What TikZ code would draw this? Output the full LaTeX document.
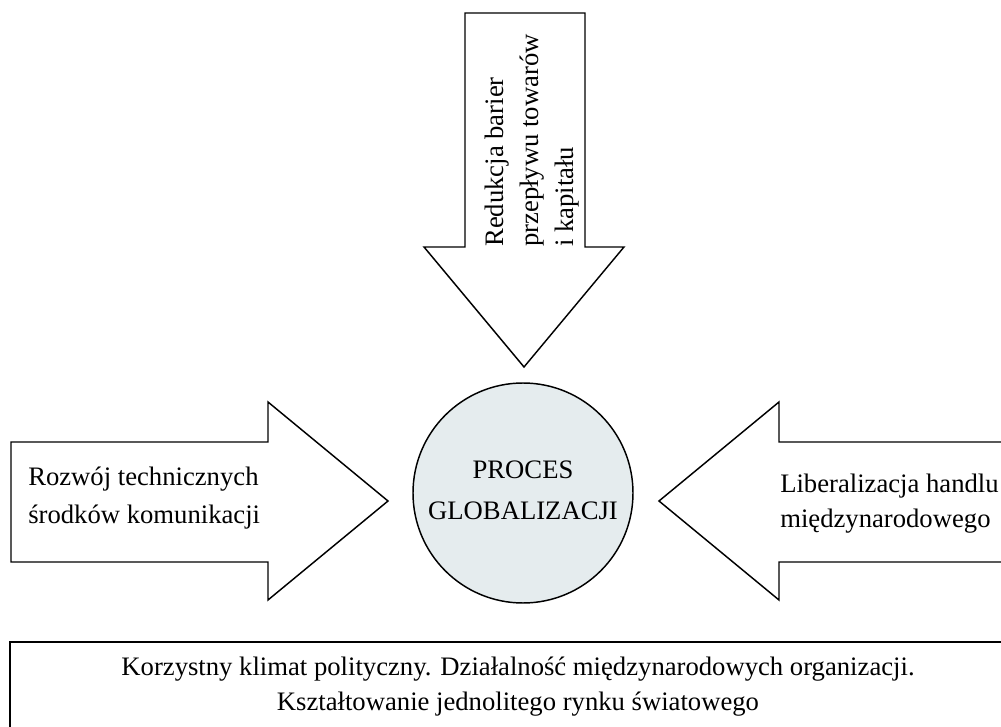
\documentclass[tikz,border=0pt]{standalone}
\usepackage{fontspec}
\setmainfont{Liberation Serif}
\definecolor{circfill}{RGB}{229,236,238}
\tikzset{
  shapeline/.style={draw=black, line width=1.1pt, line join=miter, fill=white},
  lbl/.style={inner sep=0pt},
}
\newcommand{\blockL}[2]{\fontsize{20}{#1}\selectfont\begin{tabular}[t]{@{}l@{}}#2\end{tabular}}
\newcommand{\blockC}[2]{\fontsize{20}{#1}\selectfont\begin{tabular}[t]{@{}c@{}}#2\end{tabular}}
\begin{document}
\begin{tikzpicture}[x=0.75pt, y=-0.75pt]
\useasboundingbox (0,0) rectangle (1001,727);
\clip (0,0) rectangle (1001,727);
% top arrow
\draw[shapeline] (465,13) -- (585,13) -- (585,247) -- (624,247) -- (524,367) -- (424,247) -- (465,247) -- cycle;
\node[lbl, rotate=90, anchor=base west] (ttop) at (503,247) {\blockL{26.25pt}{Redukcja barier\\przepływu towarów\\i kapitału}};
% left arrow
\draw[shapeline] (11,442) -- (268,442) -- (268,402) -- (388,501) -- (268,600) -- (268,562) -- (11,562) -- cycle;
\node[lbl, anchor=base west] (tleft) at (28,486) {\blockL{28.5pt}{Rozwój technicznych\\środków komunikacji}};
% right arrow
\draw[shapeline] (1010,442) -- (779,442) -- (779,402) -- (659,501) -- (779,600) -- (779,562) -- (1010,562);
\node[lbl, anchor=base west] (tright) at (780,493) {\blockL{26.25pt}{Liberalizacja handlu\\międzynarodowego}};
% circle
\node[circle, draw=black, line width=1.1pt, fill=circfill, minimum size=220*0.75pt, inner sep=0pt] (proc) at (523,493) {};
\node[lbl, anchor=base] (tproc) at (523,479) {\blockC{30.75pt}{PROCES\\GLOBALIZACJI}};
% bottom box
\draw[draw=black, line width=1.6pt] (10,760) -- (10,642) -- (1010,642);
\node[lbl, anchor=base] (tbottom) at (518,675) {\blockC{26.25pt}{Korzystny klimat polityczny. Działalność międzynarodowych organizacji.\\Kształtowanie jednolitego rynku światowego}};
\end{tikzpicture}
\end{document}
